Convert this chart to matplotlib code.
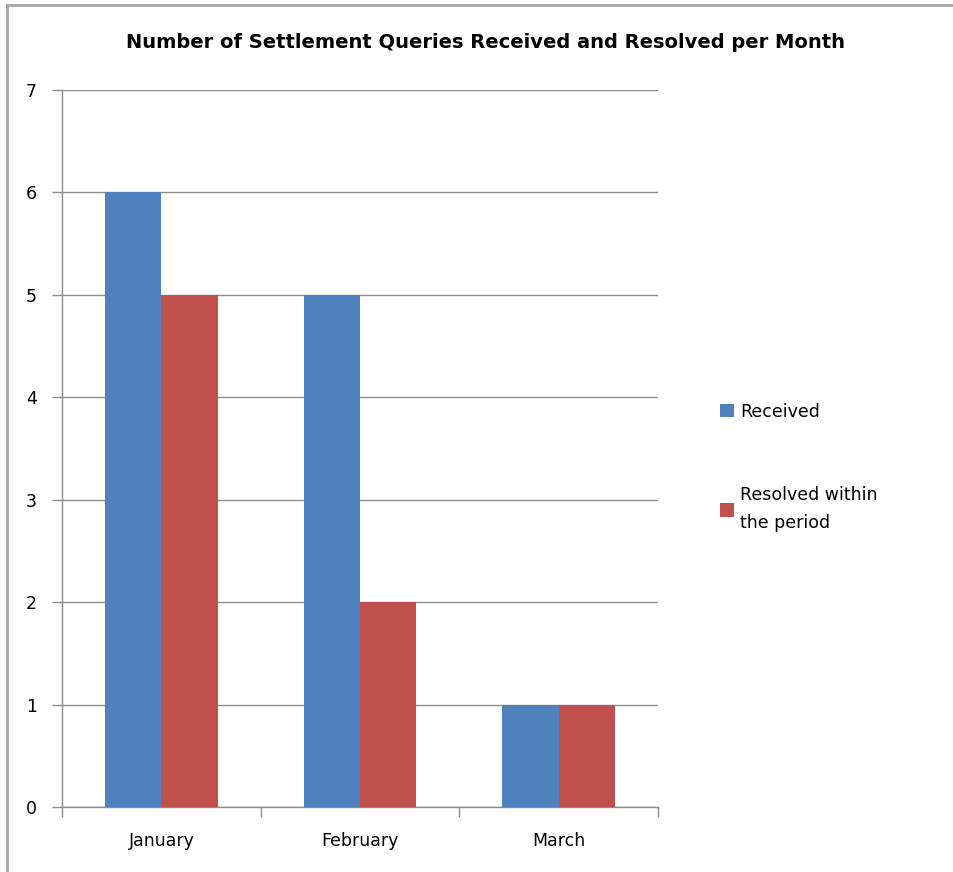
import numpy as np
import matplotlib.pyplot as plt
from matplotlib.lines import Line2D

months = ["January", "February", "March"]
received = [6, 5, 1]
resolved = [5, 2, 1]
series_names = ["Received", "Resolved within\nthe period"]
colors = ["#4F81BD", "#C0504D"]

W, H = 954, 872
fig = plt.figure(figsize=(W / 100, H / 100), dpi=100)
ax = fig.add_axes([62 / W, 1 - 807 / H, (658 - 62) / W, (807 - 90) / H])

x = np.arange(len(months))
bw = 0.283
ax.bar(x - bw / 2, received, width=bw, color=colors[0], label=series_names[0], zorder=3)
ax.bar(x + bw / 2, resolved, width=bw, color=colors[1], label=series_names[1], zorder=3)

ax.set_xlim(-0.5, len(months) - 0.5)
ax.set_ylim(0, 7)
ax.set_yticks(range(0, 8))
ax.yaxis.grid(True, color="#8C8C8C", linewidth=1.0, zorder=0)

# category labels centred, tick marks between categories
ax.set_xticks(x)
ax.set_xticklabels(months, fontsize=12.5)
ax.tick_params(axis="x", length=0, pad=18)
ax.set_xticks(np.arange(-0.5, len(months)), minor=True)
ax.tick_params(axis="x", which="minor", length=7, width=1.0, color="#8C8C8C", direction="out")
ax.tick_params(axis="y", length=7, width=1.0, color="#8C8C8C", direction="out", labelsize=12.5, pad=11)

for s in ["top", "right"]:
    ax.spines[s].set_visible(False)
for s in ["left", "bottom"]:
    ax.spines[s].set_color("#8C8C8C")
    ax.spines[s].set_linewidth(1.0)

fig.text(485 / W, 1 - 43 / H, "Number of Settlement Queries Received and Resolved per Month",
         ha="center", va="center", fontsize=14, fontweight="bold")

leg = fig.legend(loc="upper left", bbox_to_anchor=(704 / W, 1 - 387 / H), frameon=False,
                 fontsize=12.5, handlelength=0.8, handleheight=0.8, handletextpad=0.4,
                 labelspacing=3.75)
for t in leg.get_texts():
    t.set_linespacing(1.75)

# outer chart border
fig.add_artist(Line2D([7 / W, 1], [1 - 5 / H, 1 - 5 / H], color="#A6A6A6", linewidth=2))
fig.add_artist(Line2D([7 / W, 7 / W], [0, 1 - 5 / H], color="#A6A6A6", linewidth=2))

fig.savefig("out.png", dpi=100)
